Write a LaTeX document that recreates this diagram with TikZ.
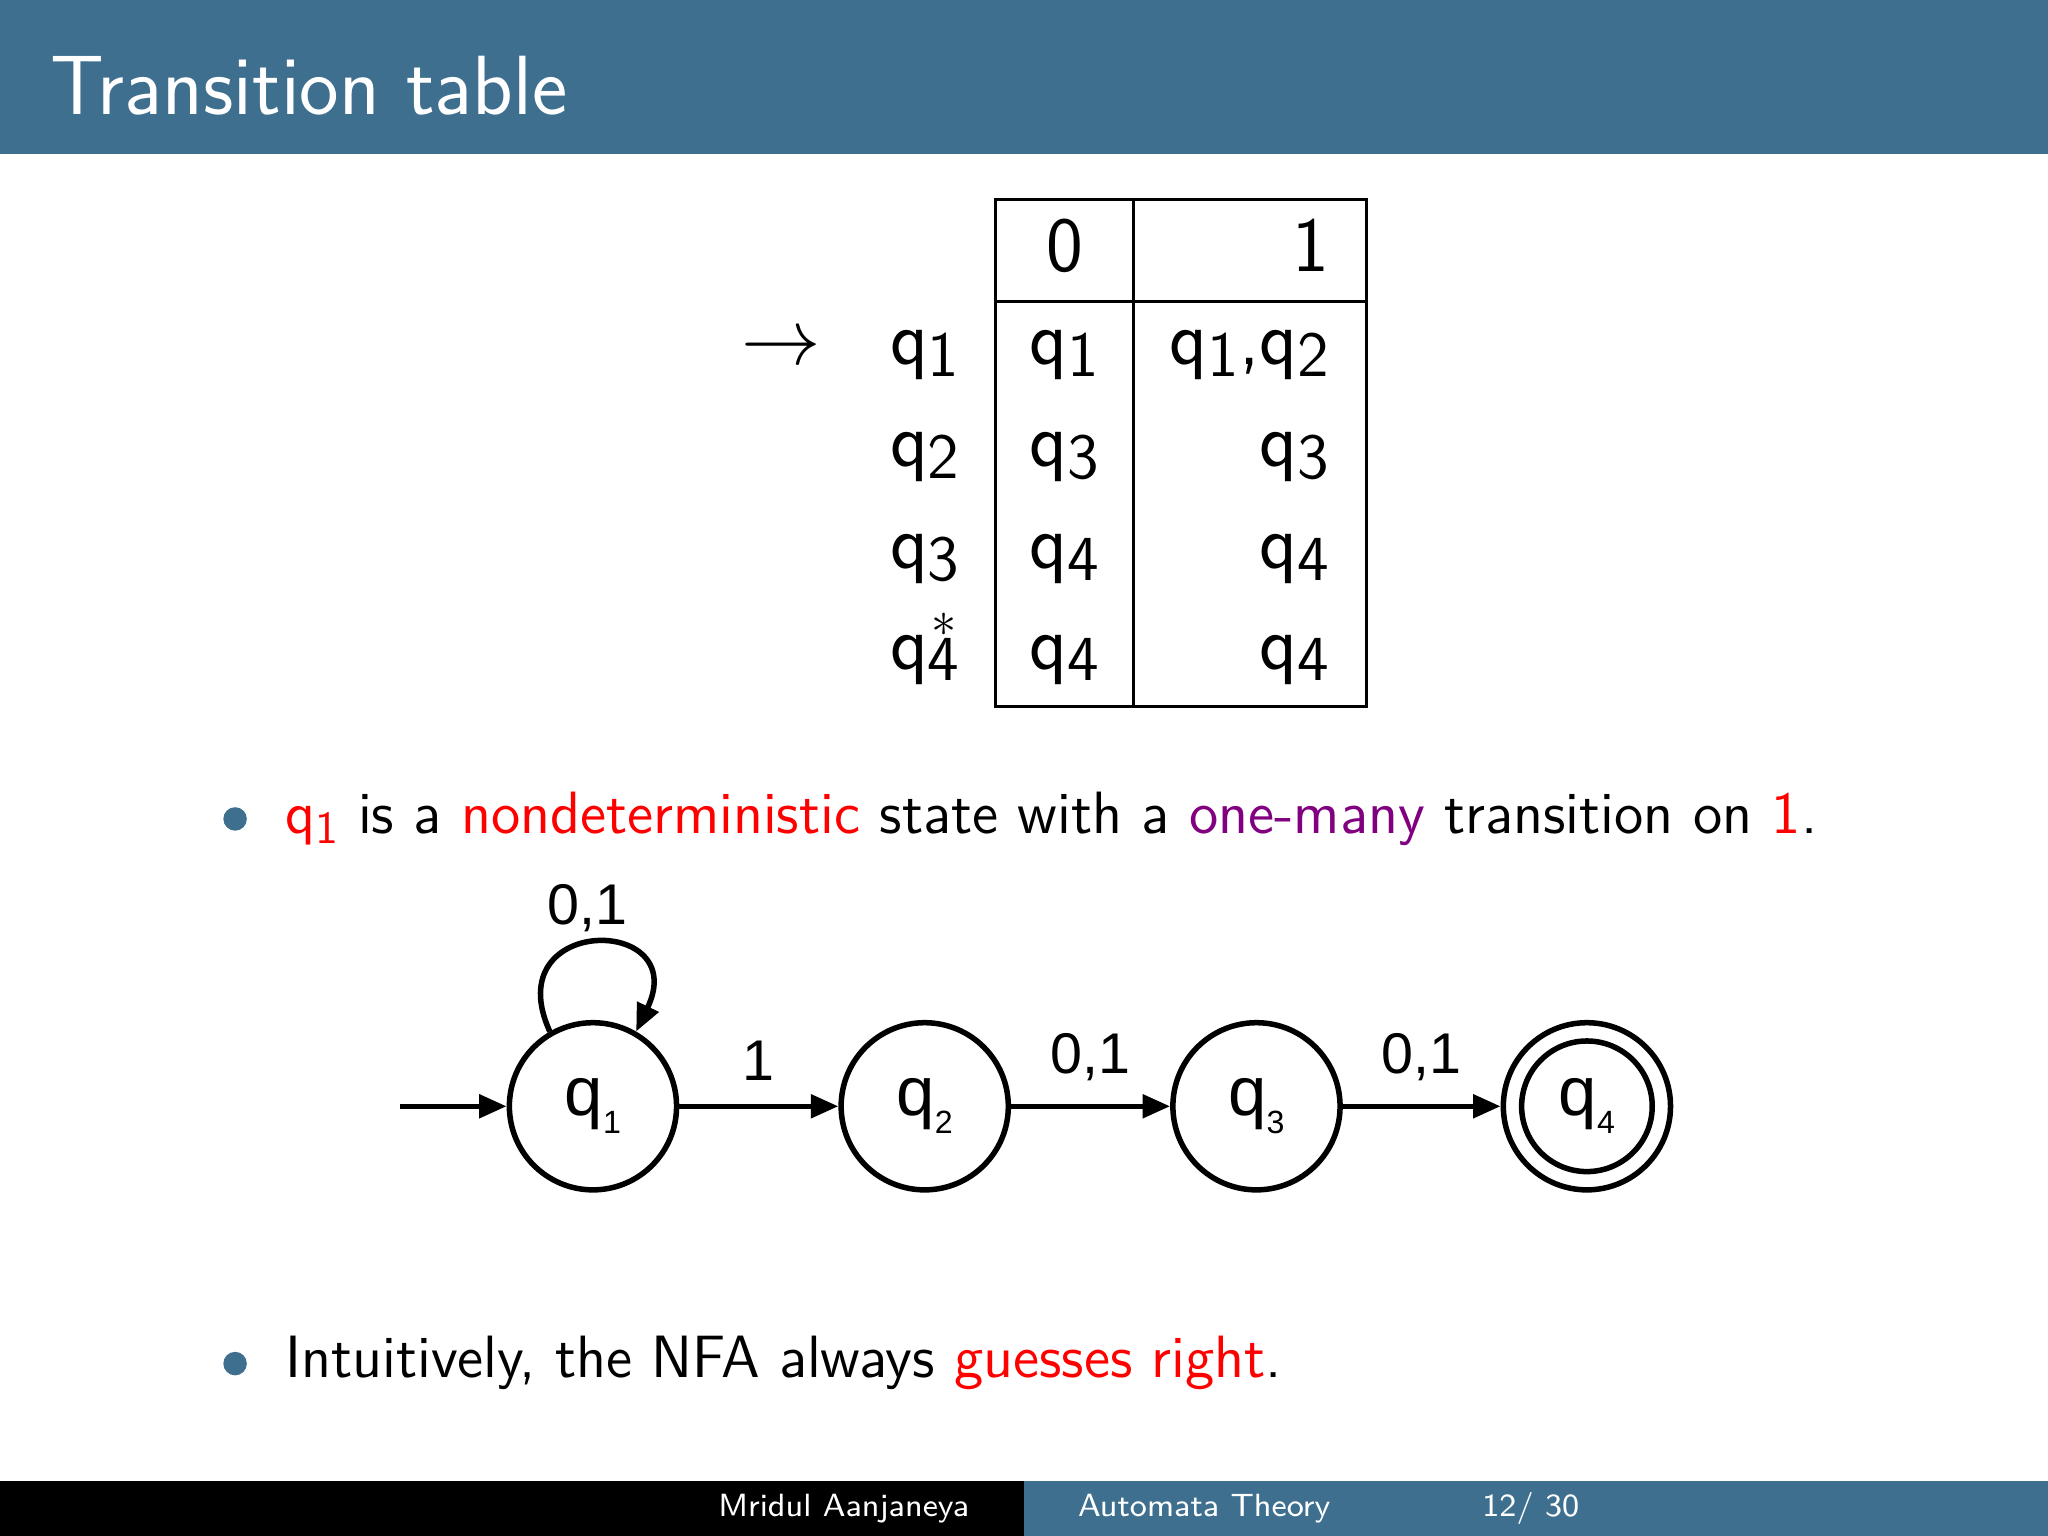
\documentclass[tikz,border=0pt]{standalone}
\usepackage{fontspec}
\newfontfamily\hel{Liberation Sans}
\usetikzlibrary{arrows.meta}
\definecolor{bar}{RGB}{62,111,143}
\definecolor{pur}{RGB}{128,0,128}
\newcommand{\qq}[1]{q\raisebox{-0.35ex}{\fontsize{14}{14}\selectfont #1}}
\newcommand{\qb}[1]{q\raisebox{-0.4ex}{\fontsize{10}{10}\selectfont #1}}
\newcommand{\qh}[1]{q\raisebox{-0.5ex}{\fontsize{7}{7}\selectfont #1}}
\begin{document}
\begin{tikzpicture}[x=0.01cm,y=-0.01cm,
  tt/.style={font=\sffamily\fontsize{17}{17}\selectfont,inner sep=0},
  st/.style={circle,draw,line width=1.2pt,minimum size=128*0.01cm,inner sep=0,font=\hel\fontsize{15}{15}\selectfont},
  ed/.style={line width=1.2pt,-{Triangle[length=6pt,width=5pt]}},
  lb/.style={font=\hel\fontsize{12.5}{12.5}\selectfont,inner sep=0},
  bt/.style={font=\sffamily\fontsize{13}{13}\selectfont,anchor=base west,inner sep=0}]
\useasboundingbox (0,0) rectangle (1568,1176);
\fill[white] (0,0) rectangle (1568,1176);
\fill[bar] (0,0) rectangle (1568,118);
\node[anchor=base west,text=white,font=\sffamily\fontsize{18.3}{18.3}\selectfont,inner sep=0] (title) at (38,88) {Transition table};
% table
\draw[line width=0.6pt] (762,153) rectangle (1046,541);
\draw[line width=0.6pt] (868,153) -- (868,541);
\draw[line width=0.6pt] (762,231) -- (1046,231);
\node[tt] (h0) at (815,188) {0};
\node[tt,anchor=east] (h1) at (1018,188) {1};
\node[tt] (ar) at (598,268) {$\rightarrow$};
\foreach \y/\a/\b/\cc/\i in {272/1/1/{\qq{1},\qq{2}}/1, 350/2/3/{\qq{3}}/2, 428/3/4/{\qq{4}}/3, 505/4/4/{\qq{4}}/4}{
  \node[tt] (r\i) at (708,\y) {\qq{\a}};
  \node[tt] (c\i) at (815,\y) {\qq{\b}};
  \node[tt,anchor=east] (d\i) at (1018,\y) {\cc};
}
\node[tt] (star) at (723,478) {\fontsize{11}{11}\selectfont$*$};
% bullets
\fill[bar] (180,627) circle (9);
\node[bt] (b1) at (218,638) {\textcolor{red}{\qb{1}} is a \textcolor{red}{nondeterministic} state with a \textcolor{pur}{one-many} transition on \textcolor{red}{1}.};
\fill[bar] (180,1044) circle (9);
\node[bt] (b2) at (218,1055) {Intuitively, the NFA always \textcolor{red}{guesses right}.};
% automaton
\node[st] (q1) at (454,847) {\qh{1}};
\node[st] (q2) at (708,847) {\qh{2}};
\node[st] (q3) at (962,847) {\qh{3}};
\node[st] (q4) at (1215,847) {\qh{4}};
\draw[line width=1.2pt] (q4) circle (50*0.01cm);
\coordinate (s) at (306,847);
\draw[ed] (s) -- (q1);
\draw[ed] (q1) -- node[lb,above=5pt] {1} (q2);
\draw[ed] (q2) -- node[lb,above=5pt] {0,1} (q3);
\draw[ed] (q3) -- node[lb,above=5pt] {0,1} (q4);
\draw[ed] (q1.120) .. controls (380,700) and (530,700) .. (q1.60);
\node[lb] (l0) at (450,695) {0,1};
% footer
\fill[black] (0,1134) rectangle (784,1176);
\fill[bar] (784,1134) rectangle (1568,1176);
\node[text=white,font=\sffamily\fontsize{7}{7}\selectfont] (f1) at (646,1155) {Mridul Aanjaneya};
\node[text=white,font=\sffamily\fontsize{7}{7}\selectfont] (f2) at (922,1155) {Automata Theory};
\node[text=white,font=\sffamily\fontsize{7}{7}\selectfont] (f3) at (1172,1155) {12/ 30};
\end{tikzpicture}
\end{document}
